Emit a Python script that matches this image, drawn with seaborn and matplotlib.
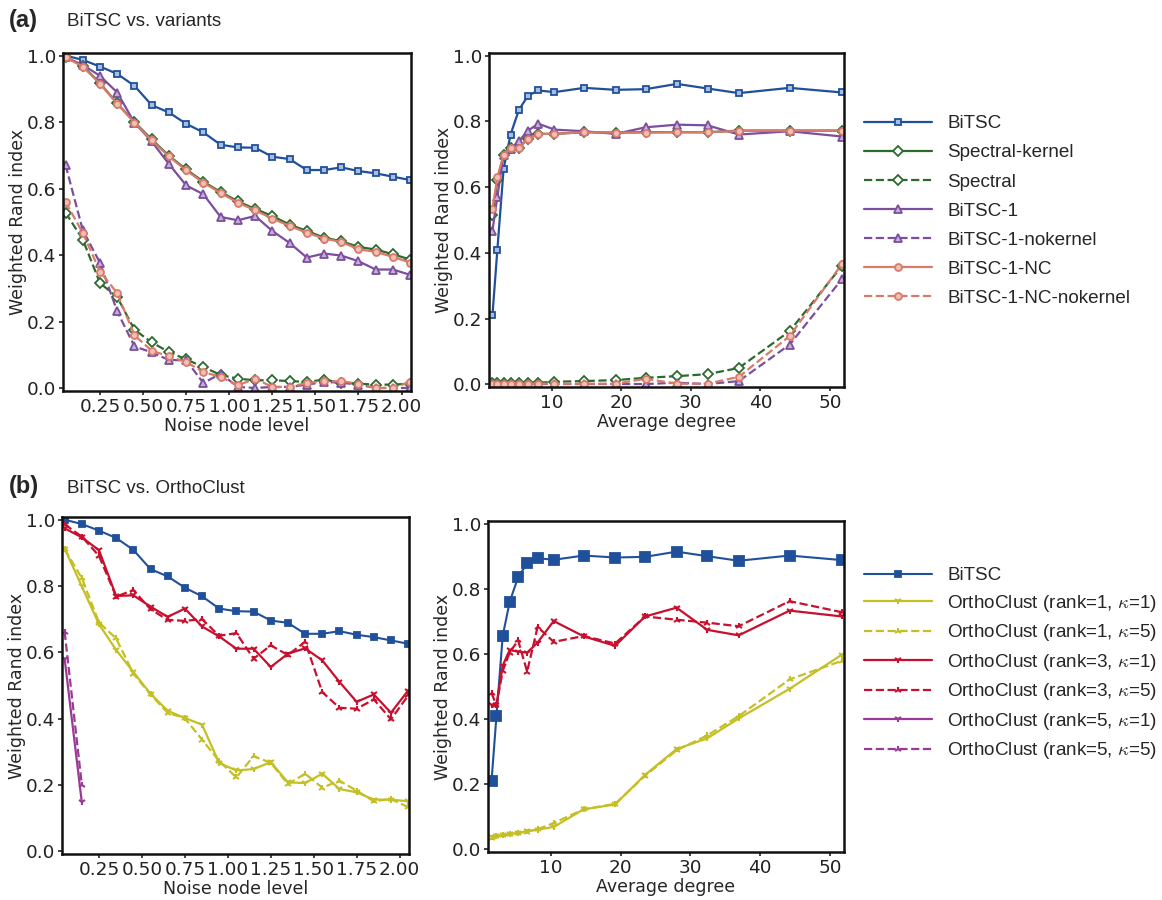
import numpy as np
import pandas as pd
import matplotlib
matplotlib.use("Agg")
import matplotlib.pyplot as plt
import seaborn as sns

# ---- x values ----
noise_level = [0.05, 0.15, 0.25, 0.35, 0.45, 0.55, 0.65, 0.75, 0.85, 0.95, 1.05,
               1.15, 1.25, 1.35, 1.45, 1.55, 1.65, 1.75, 1.85, 1.95, 2.05]
avg_degree = [1.5, 2.2, 3.1, 4.1, 5.3, 6.6, 8.1, 10.4, 14.7, 19.2, 23.5, 28.0,
              32.4, 36.9, 44.2, 51.7]

# ---- (a) BiTSC vs. variants, noise ----
bitsc_noise = [1.0, 0.987, 0.967, 0.945, 0.909, 0.851, 0.829, 0.795, 0.769, 0.732, 0.724,
               0.723, 0.696, 0.689, 0.656, 0.656, 0.664, 0.653, 0.646, 0.636, 0.626]
spec_kernel_noise = [0.995, 0.969, 0.917, 0.856, 0.800, 0.748, 0.699, 0.658, 0.621, 0.590, 0.562,
                     0.539, 0.518, 0.492, 0.473, 0.453, 0.442, 0.425, 0.417, 0.403, 0.387]
spec_noise = [0.528, 0.447, 0.316, 0.274, 0.176, 0.138, 0.109, 0.087, 0.064, 0.040, 0.029,
              0.024, 0.024, 0.022, 0.019, 0.026, 0.017, 0.014, 0.011, 0.011, 0.014]
b1_noise = [0.995, 0.972, 0.939, 0.889, 0.798, 0.742, 0.674, 0.610, 0.583, 0.515, 0.505,
            0.518, 0.473, 0.437, 0.393, 0.405, 0.399, 0.382, 0.357, 0.357, 0.341]
b1_nok_noise = [0.671, 0.475, 0.377, 0.231, 0.126, 0.108, 0.085, 0.084, 0.016, 0.044, 0.004,
                0.001, 0.004, 0.004, 0.011, 0.019, 0.017, 0.011, 0.001, 0.001, 0.001]
b1nc_noise = [0.995, 0.967, 0.915, 0.855, 0.798, 0.745, 0.697, 0.655, 0.618, 0.587, 0.558,
              0.535, 0.510, 0.488, 0.468, 0.450, 0.440, 0.418, 0.410, 0.395, 0.378]
b1nc_nok_noise = [0.560, 0.467, 0.351, 0.286, 0.159, 0.113, 0.096, 0.079, 0.049, 0.034, 0.009,
                  0.029, 0.004, 0.004, 0.016, 0.021, 0.021, 0.014, 0.0, 0.002, 0.019]

# ---- (a) BiTSC vs. variants, degree ----
bitsc_deg = [0.210, 0.408, 0.655, 0.760, 0.835, 0.878, 0.894, 0.889, 0.902, 0.896, 0.898,
             0.914, 0.900, 0.886, 0.902, 0.888]
spec_kernel_deg = [0.516, 0.622, 0.698, 0.720, 0.720, 0.747, 0.762, 0.762, 0.767, 0.766, 0.767,
                   0.767, 0.767, 0.772, 0.772, 0.772]
spec_deg = [0.005, 0.005, 0.005, 0.005, 0.005, 0.005, 0.005, 0.008, 0.010, 0.013, 0.020,
            0.025, 0.031, 0.050, 0.162, 0.360]
b1_deg = [0.468, 0.571, 0.698, 0.716, 0.740, 0.772, 0.793, 0.775, 0.770, 0.762, 0.782,
          0.790, 0.788, 0.760, 0.770, 0.754]
b1_nok_deg = [0.001, 0.001, 0.001, 0.001, 0.001, 0.001, 0.001, 0.001, 0.001, 0.001, 0.001,
              0.005, 0.001, 0.010, 0.121, 0.320]
b1nc_deg = [0.533, 0.630, 0.698, 0.720, 0.720, 0.746, 0.762, 0.762, 0.767, 0.766, 0.766,
            0.767, 0.767, 0.771, 0.772, 0.772]
b1nc_nok_deg = [0.002, 0.002, 0.002, 0.002, 0.002, 0.002, 0.002, 0.002, 0.002, 0.002, 0.017,
                0.002, 0.002, 0.023, 0.147, 0.366]

# ---- (b) BiTSC vs. OrthoClust, noise ----
oc11_noise = [0.913, 0.799, 0.685, 0.607, 0.541, 0.475, 0.424, 0.402, 0.382, 0.266, 0.244,
              0.248, 0.269, 0.208, 0.206, 0.234, 0.188, 0.178, 0.156, 0.156, 0.151]
oc15_noise = [0.911, 0.824, 0.690, 0.642, 0.536, 0.473, 0.418, 0.401, 0.337, 0.272, 0.223,
              0.287, 0.267, 0.203, 0.234, 0.192, 0.213, 0.183, 0.151, 0.158, 0.133]
oc31_noise = [0.974, 0.947, 0.908, 0.770, 0.772, 0.738, 0.707, 0.732, 0.678, 0.648, 0.611,
              0.611, 0.556, 0.596, 0.612, 0.576, 0.511, 0.451, 0.473, 0.418, 0.485]
oc35_noise = [0.986, 0.949, 0.891, 0.768, 0.788, 0.730, 0.698, 0.695, 0.700, 0.650, 0.658,
              0.581, 0.621, 0.592, 0.632, 0.480, 0.433, 0.430, 0.458, 0.398, 0.470]
oc51_noise = [0.581, 0.148]
oc55_noise = [0.662, 0.201]

# ---- (b) BiTSC vs. OrthoClust, degree ----
oc11_deg = [0.037, 0.040, 0.044, 0.047, 0.051, 0.056, 0.061, 0.069, 0.123, 0.138, 0.229,
            0.308, 0.341, 0.402, 0.493, 0.598]
oc15_deg = [0.036, 0.041, 0.043, 0.046, 0.050, 0.055, 0.062, 0.081, 0.123, 0.140, 0.226,
            0.304, 0.350, 0.409, 0.522, 0.579]
oc31_deg = [0.442, 0.444, 0.564, 0.612, 0.607, 0.604, 0.635, 0.701, 0.654, 0.625, 0.715,
            0.742, 0.674, 0.657, 0.733, 0.715]
oc35_deg = [0.480, 0.442, 0.548, 0.604, 0.642, 0.546, 0.683, 0.637, 0.655, 0.632, 0.715,
            0.705, 0.696, 0.685, 0.762, 0.728]

BLUE = "#21509a"
GREEN = "#2d6a2e"
PURPLE = "#7b4e9e"
SALMON = "#da7a6a"
YELLOW = "#c5bf26"
RED = "#c8102e"
MAGENTA = "#9b3a96"

sns.set_theme(style="ticks")
plt.rcParams["font.family"] = ["DejaVu Sans"]
plt.rcParams["mathtext.fontset"] = "cm"

fig = plt.figure(figsize=(11.62, 9.0), dpi=100)
ax_a1 = fig.add_axes([0.0542, 0.5656, 0.2995, 0.3756])
ax_a2 = fig.add_axes([0.4208, 0.5700, 0.3055, 0.3711])
ax_b1 = fig.add_axes([0.0534, 0.0511, 0.2986, 0.3744])
ax_b2 = fig.add_axes([0.4200, 0.0533, 0.3064, 0.3678])


def draw(ax, x, y, label, color, marker, ls="-", ms=5, mfc="white", mew=1.3, lw=1.6):
    sns.lineplot(x=x[:len(y)], y=y, ax=ax, label=label, color=color, marker=marker,
                 linestyle=ls, markersize=ms, markerfacecolor=mfc,
                 markeredgecolor=color, markeredgewidth=mew, linewidth=lw,
                 legend=False)


def variants(ax, x, vals):
    bitsc, sk, sp, b1, b1n, nc, ncn = vals
    draw(ax, x, bitsc, "BiTSC", BLUE, "s", mfc="#a9bde0")
    draw(ax, x, sk, "Spectral-kernel", GREEN, "D", ms=5)
    draw(ax, x, sp, "Spectral", GREEN, "D", ls="--", ms=5)
    draw(ax, x, b1, "BiTSC-1", PURPLE, "^", ms=6, mfc="#c7b0d8")
    draw(ax, x, b1n, "BiTSC-1-nokernel", PURPLE, "^", ls="--", ms=6, mfc="#c7b0d8")
    draw(ax, x, nc, "BiTSC-1-NC", SALMON, "o", mfc="#f0c0b6")
    draw(ax, x, ncn, "BiTSC-1-NC-nokernel", SALMON, "o", ls="--", mfc="#f0c0b6")


variants(ax_a1, noise_level, [bitsc_noise, spec_kernel_noise, spec_noise, b1_noise,
                              b1_nok_noise, b1nc_noise, b1nc_nok_noise])
variants(ax_a2, avg_degree, [bitsc_deg, spec_kernel_deg, spec_deg, b1_deg,
                             b1_nok_deg, b1nc_deg, b1nc_nok_deg])


def orthoclust(ax, x, bitsc, vals, bitsc_ms):
    oc11, oc15, oc31, oc35, oc51, oc55 = vals
    draw(ax, x, bitsc, "BiTSC", BLUE, "s", ms=bitsc_ms, mfc=BLUE, lw=1.5)
    k = r"$\kappa$"
    draw(ax, x, oc11, f"OrthoClust (rank=1, {k}=1)", YELLOW, "1", ms=5, mew=1.5)
    draw(ax, x, oc15, f"OrthoClust (rank=1, {k}=5)", YELLOW, "2", ls="--", ms=5, mew=1.5)
    draw(ax, x, oc31, f"OrthoClust (rank=3, {k}=1)", RED, "1", ms=5, mew=1.5)
    draw(ax, x, oc35, f"OrthoClust (rank=3, {k}=5)", RED, "2", ls="--", ms=5, mew=1.5)
    if oc51 is not None:
        draw(ax, x, oc51, f"OrthoClust (rank=5, {k}=1)", MAGENTA, "1", ms=5, mew=1.5)
        draw(ax, x, oc55, f"OrthoClust (rank=5, {k}=5)", MAGENTA, "2", ls="--", ms=5, mew=1.5)


orthoclust(ax_b1, noise_level, bitsc_noise, [oc11_noise, oc15_noise, oc31_noise, oc35_noise,
                                             oc51_noise, oc55_noise], 5)
orthoclust(ax_b2, avg_degree, bitsc_deg, [oc11_deg, oc15_deg, oc31_deg, oc35_deg, None, None], 7.5)

for ax in [ax_a1, ax_b1]:
    ax.set_xlim(0.035, 2.055)
    ax.set_xticks([0.25, 0.5, 0.75, 1.0, 1.25, 1.5, 1.75, 2.0])
    ax.set_xticklabels(["0.25", "0.50", "0.75", "1.00", "1.25", "1.50", "1.75", "2.00"])
    ax.set_xlabel("Noise node level", fontsize=12.5, labelpad=1)
for ax in [ax_a2, ax_b2]:
    ax.set_xlim(1.0, 52.0)
    ax.set_xticks([10, 20, 30, 40, 50])
    ax.set_xlabel("Average degree", fontsize=12.5, labelpad=1)

for ax in [ax_a1, ax_a2, ax_b1, ax_b2]:
    ax.set_ylim(-0.008, 1.008)
    ax.set_yticks([0.0, 0.2, 0.4, 0.6, 0.8, 1.0])
    ax.set_ylabel("Weighted Rand index", fontsize=12.5, labelpad=0)
    ax.tick_params(labelsize=13.3, length=3, width=1.2, pad=2, colors="#222222")
    for sp in ax.spines.values():
        sp.set_visible(True)
        sp.set_linewidth(1.8)
        sp.set_color("#111111")

legend_font = {"family": "Liberation Sans", "size": 13.6}
h, l = ax_a1.get_legend_handles_labels()
fig.legend(h, l, loc="upper left", bbox_to_anchor=(0.729, 0.891), frameon=False,
           prop=legend_font, handlelength=3.6, handletextpad=0.8, labelspacing=0.63)
h, l = ax_b1.get_legend_handles_labels()
fig.legend(h, l, loc="upper left", bbox_to_anchor=(0.729, 0.389), frameon=False,
           prop=legend_font, handlelength=3.6, handletextpad=0.8, labelspacing=0.45)

fig.text(0.008, 0.977, "(a)", fontsize=17, fontweight="bold", family="Liberation Sans", va="center")
fig.text(0.058, 0.976, "BiTSC vs. variants", fontsize=13.5, family="Liberation Sans", va="center")
fig.text(0.008, 0.459, "(b)", fontsize=17, fontweight="bold", family="Liberation Sans", va="center")
fig.text(0.058, 0.457, "BiTSC vs. OrthoClust", fontsize=13.5, family="Liberation Sans", va="center")

fig.savefig("out.png", dpi=100)
